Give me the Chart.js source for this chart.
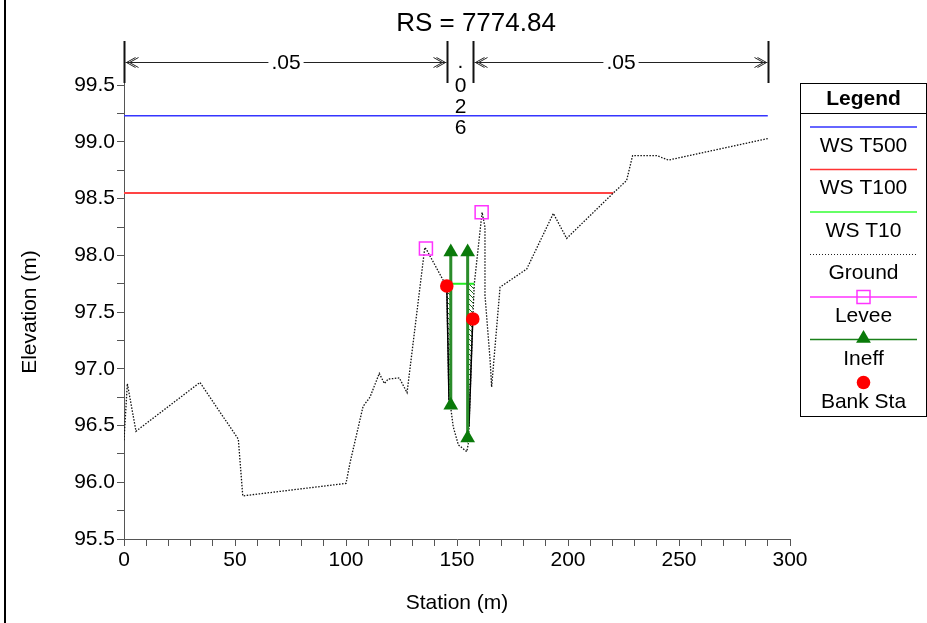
<!DOCTYPE html>
<html><head><meta charset="utf-8">
<script src="https://cdn.jsdelivr.net/npm/chart.js@4/dist/chart.umd.min.js"></script>
<style>html,body{margin:0;padding:0;background:#fff;overflow:hidden}canvas{display:block}</style>
</head><body>
<canvas id="c" width="927" height="623"></canvas>
<script>
const chartTitle = 'RS = 7774.84';
const xTitle = 'Station (m)';
const yTitle = 'Elevation (m)';

const groundSta  = [0, 1.5, 5.4, 34.2, 51.5, 53.5, 100, 101.8, 107.7, 110.8, 115, 117.3, 119, 124, 127.5, 135.5, 136.3, 143.8, 145.4, 146.4, 147.3, 148.3, 150.6, 154.4, 155.1, 155.4, 157.1, 157.8, 161.3, 162.6, 162.6, 162.6, 164.9, 165.6, 169.4, 181.4, 193.4, 199.4, 220.4, 226.4, 229.1, 240, 245.2, 290];
const groundElev = [96.37, 96.87, 96.45, 96.88, 96.38, 95.88, 95.99, 96.17, 96.67, 96.75, 96.96, 96.87, 96.91, 96.92, 96.79, 98.07, 98.05, 97.78, 97.73, 96.72, 96.64, 96.49, 96.33, 96.27, 96.34, 96.49, 97.44, 97.75, 98.38, 98.25, 97.78, 97.65, 97.08, 96.84, 97.72, 97.88, 98.37, 98.15, 98.55, 98.66, 98.88, 98.88, 98.84, 99.03];

const ws500Sta = [0, 290],       ws500Elev = [99.23, 99.23];
const ws100Sta = [0, 220.4],     ws100Elev = [98.55, 98.55];
const ws10Sta  = [145.4, 157.8], ws10Elev  = [97.75, 97.75];

const leveeSta = [136.0, 161.1], leveeElev = [98.06, 98.38];
const ineffSta = [147.2, 154.8], ineffTop = [98.03, 98.03], ineffBottom = [96.68, 96.39];
const bankSta = [145.4, 157.1], bankElev = [97.73, 97.44];

const chanLeftSta = [145.4, 146.4], chanLeftElev = [97.73, 96.72];
const chanRightSta = [155.4, 157.1], chanRightElev = [96.49, 97.44];
const hatchLeftSta = [145.4, 146.4, 147.2, 147.2, 145.4], hatchLeftElev = [97.73, 96.72, 96.64, 97.75, 97.73];
const hatchRightSta = [154.8, 155.1, 155.4, 157.1, 157.8, 154.8, 154.8], hatchRightElev = [96.30, 96.34, 96.49, 97.44, 97.75, 97.75, 96.30];

const nBreakSta = [0, 145.4, 157.1, 290];
const nValues = ['.05', '.026', '.05'];

const xTickVals = [0,10,20,30,40,50,60,70,80,90,100,110,120,130,140,150,160,170,180,190,200,210,220,230,240,250,260,270,280,290,300];
const xLabelVals = [0,50,100,150,200,250,300];
const yTickVals = [95.5,95.75,96,96.25,96.5,96.75,97,97.25,97.5,97.75,98,98.25,98.5,98.75,99,99.25,99.5];
const yLabelVals = [95.5,96,96.5,97,97.5,98,98.5,99,99.5];

const legendTitle = 'Legend';
const legendLabels = ['WS T500','WS T100','WS T10','Ground','Levee','Ineff','Bank Sta'];

const FONT = '"Liberation Sans", Arial, sans-serif';
const FS = 21;
const pts = (xs, ys) => xs.map((v, i) => ({x: v, y: ys[i]}));

const canvas = document.getElementById('c');
const ctx0 = canvas.getContext('2d');
function hatchPattern() {
  const c = document.createElement('canvas'); c.width = 5; c.height = 5;
  const g = c.getContext('2d');
  g.strokeStyle = '#1d6b1d'; g.lineWidth = 1;
  g.beginPath(); g.moveTo(0, 0); g.lineTo(5, 5); g.stroke();
  return ctx0.createPattern(c, 'repeat');
}
const pat = hatchPattern();

Chart.defaults.font.family = FONT;
Chart.defaults.font.size = FS;
Chart.defaults.color = '#000';

function drawMarker(ctx, type, x, y) {
  ctx.save();
  if (type === 'rect') {
    ctx.strokeStyle = '#ff33ff'; ctx.lineWidth = 1.5;
    ctx.strokeRect(x - 6.5, y - 6.5, 13, 13);
  } else if (type === 'tri') {
    ctx.fillStyle = '#0a7a0a';
    ctx.beginPath(); ctx.moveTo(x, y - 8.5); ctx.lineTo(x + 7.4, y + 4.3); ctx.lineTo(x - 7.4, y + 4.3); ctx.closePath(); ctx.fill();
  } else if (type === 'dot') {
    ctx.fillStyle = '#ff0000';
    ctx.beginPath(); ctx.arc(x, y, 6.8, 0, Math.PI * 2); ctx.fill();
  }
  ctx.restore();
}

const overlay = {
  id: 'overlay',
  afterDraw(chart) {
    const {ctx, scales: {x, y}} = chart;
    ctx.save();
    ctx.fillStyle = '#000'; ctx.fillRect(4, 0, 2, 623);
    ctx.fillStyle = '#000';
    ctx.font = '26px ' + FONT; ctx.textAlign = 'center'; ctx.textBaseline = 'middle';
    ctx.fillText(chartTitle, 476, 24);
    ctx.font = FS + 'px ' + FONT;
    ctx.save(); ctx.translate(30, 312); ctx.rotate(-Math.PI / 2); ctx.fillText(yTitle, 0, 0); ctx.restore();

    const yTop = y.top, yBot = 83, yArr = 62.5;
    ctx.strokeStyle = '#111';
    nBreakSta.forEach(s => {
      const px = Math.round(x.getPixelForValue(s)) + 0.5;
      ctx.lineWidth = 2; ctx.beginPath(); ctx.moveTo(px, yTop); ctx.lineTo(px, yBot); ctx.stroke();
    });
    ctx.font = FS + 'px ' + FONT;
    for (let i = 0; i < nValues.length; i++) {
      const x1 = Math.round(x.getPixelForValue(nBreakSta[i])) + 1.5;
      const x2 = Math.round(x.getPixelForValue(nBreakSta[i + 1])) - 0.5;
      const lab = nValues[i];
      const tw = ctx.measureText(lab).width;
      const mid = (x1 + x2) / 2;
      if (tw + 40 < x2 - x1) {
        ctx.lineWidth = 1; ctx.strokeStyle = '#222';
        ctx.beginPath(); ctx.moveTo(x1, yArr); ctx.lineTo(x2, yArr); ctx.stroke();
        [0, 3].forEach(o => {
          ctx.beginPath(); ctx.moveTo(x1 + 10 + o, yArr - 5); ctx.lineTo(x1 + 1 + o, yArr); ctx.lineTo(x1 + 10 + o, yArr + 5); ctx.stroke();
          ctx.beginPath(); ctx.moveTo(x2 - 10 - o, yArr - 5); ctx.lineTo(x2 - 1 - o, yArr); ctx.lineTo(x2 - 10 - o, yArr + 5); ctx.stroke();
        });
        ctx.fillStyle = '#fff'; ctx.fillRect(mid - tw / 2 - 3, yArr - 10, tw + 6, 20);
        ctx.fillStyle = '#000'; ctx.textAlign = 'center'; ctx.textBaseline = 'middle';
        ctx.fillText(lab, mid, yArr + 1);
      } else {
        ctx.fillStyle = '#000'; ctx.textAlign = 'center'; ctx.textBaseline = 'middle';
        lab.split('').forEach((ch, k) => ctx.fillText(ch, mid, (ch === '.' ? 62 : 65) + k * 21));
      }
    }

    const L = 800.5, T = 83.5, W = 126, H = 333;
    ctx.fillStyle = '#fff'; ctx.fillRect(L, T, W, H);
    ctx.strokeStyle = '#000'; ctx.lineWidth = 1;
    ctx.strokeRect(L, T, W, H);
    ctx.beginPath(); ctx.moveTo(L, 113.5); ctx.lineTo(L + W, 113.5); ctx.stroke();
    const cx = 863.5;
    ctx.fillStyle = '#000'; ctx.textAlign = 'center'; ctx.textBaseline = 'middle';
    ctx.font = 'bold ' + FS + 'px ' + FONT; ctx.fillText(legendTitle, cx, 99);
    ctx.font = FS + 'px ' + FONT;
    const lineY = [127, 169.5, 212, 254.5, 297, 339.5, 382.5];
    const textY = [146, 188, 231, 273, 316, 359, 402];
    const styles = [
      {c: '#3333ff', w: 1.5}, {c: '#ff3333', w: 1.5}, {c: '#33ff33', w: 1.5},
      {c: '#222', w: 1, dash: [1, 2]}, {c: '#ff33ff', w: 1.5, m: 'rect'},
      {c: '#1a801a', w: 1.5, m: 'tri'}, {m: 'dot', noLine: true}
    ];
    legendLabels.forEach((lab, i) => {
      const st = styles[i];
      if (!st.noLine) {
        ctx.save(); ctx.strokeStyle = st.c; ctx.lineWidth = st.w;
        if (st.dash) ctx.setLineDash(st.dash);
        ctx.beginPath(); ctx.moveTo(810, lineY[i]); ctx.lineTo(917, lineY[i]); ctx.stroke();
        ctx.restore();
      }
      if (st.m) drawMarker(ctx, st.m, cx, lineY[i] - (st.m === 'tri' ? 1 : 0));
      ctx.fillStyle = '#000';
      ctx.fillText(lab, cx, textY[i]);
    });
    ctx.restore();
  }
};

const datasets = [
  {label: 'Bank Sta', data: pts(bankSta, bankElev), showLine: false, pointStyle: 'circle', pointRadius: 6.8,
   pointBackgroundColor: '#ff0000', pointBorderColor: '#ff0000', pointBorderWidth: 0},
  {label: 'Ineff L', data: pts([ineffSta[0], ineffSta[0]], [ineffTop[0], ineffBottom[0]]), showLine: true,
   borderColor: '#2a8c2a', borderWidth: 3, pointStyle: 'triangle', pointRadius: 8.5,
   pointBackgroundColor: '#0a7a0a', pointBorderColor: '#0a7a0a', pointBorderWidth: 0},
  {label: 'Ineff R', data: pts([ineffSta[1], ineffSta[1]], [ineffTop[1], ineffBottom[1]]), showLine: true,
   borderColor: '#2a8c2a', borderWidth: 3, pointStyle: 'triangle', pointRadius: 8.5,
   pointBackgroundColor: '#0a7a0a', pointBorderColor: '#0a7a0a', pointBorderWidth: 0},
  {label: 'Levee', data: pts(leveeSta, leveeElev), showLine: false, pointStyle: 'rect', pointRadius: 9.2,
   pointBackgroundColor: 'rgba(0,0,0,0)', pointBorderColor: '#ff33ff', pointBorderWidth: 1.5},
  {label: 'WS T10', data: pts(ws10Sta, ws10Elev), showLine: true, borderColor: '#22ee22', borderWidth: 2, pointRadius: 0},
  {label: 'chanL', data: pts(chanLeftSta, chanLeftElev), showLine: true, borderColor: '#000', borderWidth: 1.5, pointRadius: 0},
  {label: 'chanR', data: pts(chanRightSta, chanRightElev), showLine: true, borderColor: '#000', borderWidth: 1.5, pointRadius: 0},
  {label: 'hatchL', data: pts(hatchLeftSta, hatchLeftElev), showLine: true, borderWidth: 0, borderColor: 'rgba(0,0,0,0)',
   backgroundColor: pat, fill: 'shape', pointRadius: 0},
  {label: 'hatchR', data: pts(hatchRightSta, hatchRightElev), showLine: true, borderWidth: 0, borderColor: 'rgba(0,0,0,0)',
   backgroundColor: pat, fill: 'shape', pointRadius: 0},
  {label: 'Ground', data: pts(groundSta, groundElev), showLine: true, borderColor: '#111', borderWidth: 1.3,
   borderDash: [1.5, 1.5], pointRadius: 0},
  {label: 'WS T100', data: pts(ws100Sta, ws100Elev), showLine: true, borderColor: '#ff4444', borderWidth: 2, pointRadius: 0},
  {label: 'WS T500', data: pts(ws500Sta, ws500Elev), showLine: true, borderColor: '#3535ff', borderWidth: 1.5, pointRadius: 0}
];

new Chart(canvas, {
  type: 'scatter',
  data: {datasets},
  options: {
    responsive: false, animation: false, devicePixelRatio: 1,
    layout: {padding: {left: 0, top: 41, right: 137, bottom: 0}},
    plugins: {legend: {display: false}, tooltip: {enabled: false}, title: {display: false}},
    scales: {
      x: {
        type: 'linear', min: 0, max: 300,
        afterBuildTicks(s) { s.ticks = xTickVals.map(v => ({value: v})); },
        afterFit(s) { s.height = 84; },
        ticks: {autoSkip: false, maxRotation: 0, minRotation: 0, padding: 2, color: '#000', font: {size: FS},
                callback: v => xLabelVals.includes(v) ? String(v) : ''},
        grid: {drawOnChartArea: false, drawTicks: true, tickLength: 7, color: '#555'},
        border: {display: true, color: '#555', width: 1},
        title: {display: true, text: xTitle, color: '#000', font: {size: FS}, padding: {top: 0, bottom: 7}}
      },
      y: {
        type: 'linear', min: 95.5, max: 99.89,
        afterBuildTicks(s) { s.ticks = yTickVals.map(v => ({value: v})); },
        afterFit(s) { s.width = 124; },
        ticks: {autoSkip: false, padding: 2, color: '#000', font: {size: FS},
                callback: v => yLabelVals.includes(v) ? v.toFixed(1) : ''},
        grid: {drawOnChartArea: false, drawTicks: true, tickLength: 7, color: '#555'},
        border: {display: true, color: '#555', width: 1}
      }
    }
  },
  plugins: [overlay]
});
</script>
</body></html>
